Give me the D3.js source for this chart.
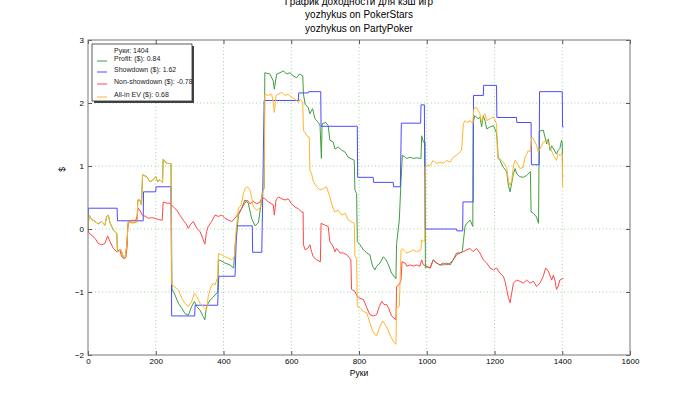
<!DOCTYPE html>
<html>
<head>
<meta charset="utf-8">
<script src="https://cdn.jsdelivr.net/npm/d3@7"></script>
<style>
  body { margin: 0; background: #fff; }
  svg { font-family: "Liberation Sans", Arial, sans-serif; }
</style>
</head>
<body>
<div id="graphic"></div>
<script>
// Title lines and legend labels
const titleLines = ["График доходности для кэш игр", "yozhykus on PokerStars", "yozhykus on PartyPoker"];
const legendLabels = ["Руки: 1404", "Profit: ($): 0.84", "Showdown ($): 1.62", "Non-showdown ($): -0.78", "All-in EV ($): 0.68"];
const xTicks = [0, 200, 400, 600, 800, 1000, 1200, 1400, 1600];
const yTicks = [-2, -1, 0, 1, 2, 3];

// [hand, $]
const showdown = [
  [0,0],[1,0.33],[86,0.33],[87,0.13],[163,0.13],[164,0.59],[200,0.59],[201,0.67],[245,0.67],[247,-1.38],
  [315,-1.38],[316,-1.21],[383,-1.21],[384,-0.98],[386,-0.75],[434,-0.75],[439,0.05],[485,0.05],[486,-0.37],
  [513,-0.37],[515,0.27],[520,2.04],[621,2.04],[622,2.16],[650,2.16],[651,2.18],[687,2.18],[688,1.63],
  [795,1.63],[796,0.82],[842,0.82],[843,0.74],[901,0.74],[902,0.67],[922,0.67],[925,1.68],[982,1.68],
  [983,1.97],[993,1.97],[995,0.0],[1088,0.0],[1089,-0.03],[1106,-0.03],[1107,0.43],[1137,0.43],[1138,2.12],
  [1167,2.12],[1168,2.28],[1206,2.28],[1207,1.77],[1265,1.77],[1266,1.69],[1308,1.69],[1309,1.02],
  [1332,1.02],[1333,2.18],[1400,2.18],[1401,1.62],[1404,1.62]
];

const nonShowdown = [
  [0,0],[3,-0.07],[11,-0.1],[21,-0.15],[30,-0.23],[40,-0.25],[50,-0.23],[58,-0.11],[65,-0.2],[75,-0.31],
  [85,-0.36],[94,-0.33],[99,-0.44],[107,-0.47],[112,-0.44],[116,-0.25],[117,0.02],[120,0.12],[130,0.14],
  [140,0.13],[145,0.2],[148,0.33],[153,0.3],[160,0.22],[170,0.2],[178,0.17],[188,0.18],[198,0.17],
  [208,0.15],[219,0.14],[222,0.43],
  [232,0.41],[242,0.41],[252,0.35],[262,0.3],[271,0.22],[281,0.14],[290,0.08],[296,0.01],[301,0.06],
  [311,0.12],[321,0.01],[331,-0.04],[340,-0.17],[345,-0.24],[350,-0.04],[355,0.04],[365,0.12],[375,0.22],
  [385,0.2],[395,0.22],[404,0.17],[414,0.14],[424,0.12],[434,0.17],[444,0.25],[454,0.33],[463,0.41],
  [470,0.46],[478,0.4],[488,0.44],[498,0.4],[508,0.43],[513,0.5],[522,0.48],[532,0.43],[542,0.4],
  [547,0.38],[550,0.22],[555,0.46],[562,0.51],[572,0.48],[582,0.46],[591,0.48],[601,0.4],[611,0.35],
  [621,0.32],[631,0.27],[635,0.27],[636,-0.25],[641,-0.33],[650,-0.3],[655,-0.25],[660,-0.36],[665,-0.44],
  [675,-0.49],[686,-0.52],[688,0.09],[700,0.06],[709,0.04],[714,-0.2],[724,-0.28],[729,-0.36],[734,-0.31],
  [744,-0.38],[754,-0.38],[764,-0.41],[776,-0.49],[778,-0.96],[788,-0.99],[795,-1.07],[803,-1.1],
  [813,-1.12],[823,-1.25],[832,-1.36],[842,-1.38],[852,-1.36],[860,-1.23],[867,-1.15],[874,-1.2],
  [882,-1.2],[887,-1.25],[896,-1.38],[909,-1.44],[911,-0.91],[919,-0.88],[924,-0.81],[927,-0.52],
  [936,-0.54],[941,-0.59],[951,-0.57],[960,-0.59],[970,-0.57],[980,-0.59],[985,-0.49],[990,-0.57],
  [1000,-0.59],[1010,-0.62],[1019,-0.49],[1029,-0.54],[1039,-0.57],[1049,-0.54],[1059,-0.57],[1069,-0.54],
  [1078,-0.49],[1088,-0.38],[1098,-0.38],[1108,-0.36],[1118,-0.33],[1128,-0.31],[1137,-0.36],[1147,-0.31],
  [1157,-0.38],[1167,-0.49],[1177,-0.54],[1187,-0.62],[1197,-0.65],[1206,-0.62],[1216,-0.7],[1226,-0.75],
  [1231,-0.83],[1236,-0.96],[1241,-1.09],[1246,-1.17],[1251,-1.01],[1256,-0.86],[1265,-0.81],[1275,-0.83],
  [1285,-0.86],[1295,-0.81],[1305,-0.86],[1315,-0.83],[1324,-0.91],[1334,-0.86],[1344,-0.75],[1351,-0.62],
  [1359,-0.67],[1369,-0.81],[1374,-0.73],[1379,-0.83],[1383,-0.96],[1388,-0.91],[1393,-0.81],[1404,-0.78]
];

const profit = [
  [0,0],[3,0.22],[11,0.15],[21,0.12],[30,0.08],[40,0.12],[50,0.06],[55,0.2],[60,0.22],[65,0.1],[75,-0.02],
  [85,-0.07],[87,-0.36],[97,-0.33],[104,-0.44],[109,-0.47],[114,-0.28],[119,0.12],[129,0.1],[139,0.1],
  [145,0.12],[147,0.46],[153,0.46],[158,0.38],[161,0.86],[173,0.83],[183,0.75],[193,0.78],[200,0.83],
  [206,0.75],[212,0.78],[220,0.74],[222,1.11],[232,1.04],[245,1.04],[248,-0.95],[257,-1.05],[267,-1.18],
  [277,-1.26],[286,-1.34],[296,-1.37],[306,-1.23],[314,-1.15],[321,-1.23],[331,-1.29],[340,-1.39],
  [345,-1.44],[350,-1.23],[360,-1.13],[370,-1.08],[383,-1.0],[385,-0.49],[395,-0.51],[404,-0.54],
  [419,-0.57],[430,-0.62],[434,-0.28],[439,-0.1],[444,0.22],[454,0.33],[463,0.46],[473,0.41],[483,0.17],
  [493,0.05],[503,0.1],[511,0.4],[515,0.6],[520,0.65],[522,2.48],[537,2.46],[547,2.35],[550,2.22],
  [557,2.46],[567,2.48],[577,2.51],[586,2.46],[596,2.48],[606,2.43],[616,2.4],[624,2.46],[634,2.43],
  [636,2.14],[641,1.98],[650,1.93],[655,1.83],[663,1.91],[670,1.75],[680,1.69],[685,1.64],[689,1.12],
  [691,1.67],[702,1.69],[709,1.64],[714,1.41],[724,1.38],[729,1.27],[739,1.3],[749,1.25],[759,1.22],
  [768,1.14],[786,1.09],[788,0.62],[793,0.56],[795,-0.2],[803,-0.25],[813,-0.33],[823,-0.38],[832,-0.41],
  [840,-0.59],[847,-0.65],[852,-0.59],[862,-0.54],[872,-0.44],[880,-0.49],[887,-0.57],[896,-0.7],
  [909,-0.79],[911,-0.23],[919,0.14],[924,0.77],[928,1.17],[936,1.14],[941,1.12],[951,1.14],[960,1.12],
  [970,1.13],[983,1.12],[985,1.48],[990,1.38],[995,1.38],[996,-0.62],[1000,-0.6],[1010,-0.62],
  [1019,-0.49],[1029,-0.54],[1039,-0.57],[1049,-0.57],[1059,-0.54],[1069,-0.57],[1078,-0.49],[1088,-0.41],
  [1098,-0.38],[1105,-0.36],[1108,-0.2],[1113,0.04],[1118,0.09],[1128,0.14],[1136,0.04],[1137,1.69],
  [1142,1.8],[1152,1.75],[1157,1.78],[1162,1.62],[1167,1.8],[1172,1.72],[1177,1.59],[1187,1.62],
  [1197,1.64],[1205,1.54],[1208,1.41],[1211,1.12],[1216,1.09],[1226,0.98],[1236,0.91],[1241,0.69],
  [1246,0.59],[1256,0.88],[1261,0.96],[1265,0.88],[1275,0.83],[1285,0.82],[1295,0.85],[1306,0.91],
  [1308,0.27],[1315,0.25],[1324,0.19],[1330,0.09],[1332,1.55],[1344,1.57],[1349,1.46],[1354,1.35],
  [1359,1.43],[1364,1.25],[1369,1.32],[1383,1.19],[1388,1.25],[1393,1.28],[1398,1.41],[1400,1.36],
  [1401,0.84],[1404,0.84]
];

const allinEV = [
  [0,0],[3,0.22],[11,0.15],[21,0.12],[30,0.08],[40,0.12],[50,0.06],[55,0.2],[60,0.22],[65,0.1],[75,-0.02],
  [85,-0.07],[87,-0.36],[97,-0.33],[104,-0.44],[109,-0.47],[114,-0.28],[119,0.12],[129,0.1],[139,0.1],
  [145,0.12],[147,0.46],[153,0.46],[158,0.38],[161,0.86],[173,0.83],[183,0.75],[193,0.78],[200,0.83],
  [206,0.75],[212,0.78],[220,0.74],[222,1.11],[232,1.04],[245,1.04],[247,-0.88],[257,-0.92],[267,-0.97],
  [277,-1.1],[286,-1.18],[296,-1.23],[306,-1.15],[314,-1.02],[321,-1.07],[331,-1.18],[340,-1.23],
  [350,-1.29],[355,-1.07],[363,-0.92],[370,-0.86],[375,-0.89],[383,-0.76],[385,-0.39],[395,-0.41],
  [404,-0.44],[414,-0.46],[424,-0.49],[432,-0.44],[436,-0.12],[439,0.06],[444,0.33],[452,0.38],[459,0.57],
  [465,0.65],[471,0.67],[478,0.62],[483,0.51],[488,0.35],[498,0.3],[508,0.33],[515,0.57],[520,0.65],
  [522,2.14],[532,2.12],[542,2.14],[547,2.01],[550,1.85],[555,2.12],[562,2.14],[572,2.17],[582,2.12],
  [591,2.14],[601,2.09],[611,2.06],[621,2.01],[626,2.06],[634,2.01],[636,1.56],[641,1.53],[646,1.48],
  [653,1.46],[655,0.93],[660,0.88],[665,0.75],[675,0.67],[685,0.62],[695,0.64],[704,0.67],[714,0.51],
  [722,0.35],[729,0.27],[739,0.3],[749,0.22],[759,0.25],[769,0.14],[786,0.09],[788,-0.44],[793,-0.46],
  [795,-1.23],[803,-1.25],[813,-1.31],[823,-1.33],[832,-1.49],[840,-1.62],[847,-1.67],[852,-1.7],
  [862,-1.54],[870,-1.46],[880,-1.54],[887,-1.62],[893,-1.7],[901,-1.78],[909,-1.83],[911,-1.25],
  [919,-1.23],[924,-0.33],[928,-0.31],[936,-0.36],[941,-0.38],[951,-0.36],[960,-0.33],[970,-0.36],
  [983,-0.33],[985,-0.17],[990,-0.2],[994,-0.2],[995,0.98],[1000,1.01],[1010,1.01],[1019,1.09],[1024,1.06],
  [1029,1.04],[1039,1.06],[1049,1.04],[1059,1.09],[1069,1.06],[1078,1.14],[1088,1.17],[1098,1.22],
  [1103,1.25],[1108,1.67],[1113,1.72],[1118,1.69],[1128,1.72],[1136,1.67],[1139,1.91],[1147,1.93],
  [1152,1.88],[1157,1.83],[1162,1.69],[1167,1.8],[1172,1.83],[1177,1.72],[1187,1.75],[1197,1.78],
  [1206,1.67],[1209,1.14],[1216,1.12],[1226,1.06],[1236,0.98],[1241,0.77],[1246,0.69],[1251,0.77],
  [1256,1.01],[1261,1.09],[1265,1.06],[1275,0.96],[1285,0.98],[1290,1.14],[1295,1.19],[1300,1.25],
  [1305,1.22],[1310,1.46],[1315,1.43],[1324,1.33],[1329,1.22],[1334,1.27],[1344,1.38],[1354,1.41],
  [1364,1.3],[1374,1.17],[1383,1.09],[1388,1.19],[1393,1.17],[1400,1.19],[1401,0.68],[1404,0.68]
];

const seriesList = [
  { values: profit, color: "#3f9f3f" },
  { values: showdown, color: "#4c4cff" },
  { values: nonShowdown, color: "#ff4747" },
  { values: allinEV, color: "#ffb52e" }
];

// Dimensions and margins
const margin = { top: 40, right: 70, bottom: 40, left: 88 };
const width = 700 - margin.left - margin.right;
const height = 395 - margin.top - margin.bottom;

const root = d3.select("#graphic")
  .append("svg")
  .attr("width", 700)
  .attr("height", 395);

// Title
root.selectAll(".title")
  .data(titleLines)
  .join("text")
  .attr("class", "title")
  .attr("x", margin.left + width / 2)
  .attr("y", (d, i) => 5 + i * 13.4)
  .attr("text-anchor", "middle")
  .attr("font-size", 10)
  .attr("fill", "#000")
  .text(d => d);

const svg = root.append("g")
  .attr("transform", `translate(${margin.left},${margin.top})`);

const x = d3.scaleLinear().domain([0, 1600]).range([0, width]);
const y = d3.scaleLinear().domain([-2, 3]).range([height, 0]);

// Grid
svg.append("g")
  .selectAll("line")
  .data(xTicks.slice(1, -1))
  .join("line")
  .attr("x1", d => x(d)).attr("x2", d => x(d))
  .attr("y1", 0).attr("y2", height)
  .attr("stroke", "#9fd49f")
  .attr("stroke-dasharray", "1,2.5");

svg.append("g")
  .selectAll("line")
  .data(yTicks.slice(1, -1))
  .join("line")
  .attr("x1", 0).attr("x2", width)
  .attr("y1", d => y(d)).attr("y2", d => y(d))
  .attr("stroke", "#9fd49f")
  .attr("stroke-dasharray", "1,2.5");

// Lines
svg.append("clipPath").attr("id", "clip")
  .append("rect").attr("width", width).attr("height", height);

const line = d3.line()
  .x(d => x(d[0]))
  .y(d => y(d[1]));

svg.append("g")
  .attr("clip-path", "url(#clip)")
  .selectAll("path")
  .data(seriesList)
  .join("path")
  .attr("d", d => line(d.values))
  .attr("fill", "none")
  .attr("stroke", d => d.color)
  .attr("stroke-width", 1);

// Axes, ticks inward on all sides
const axisStyle = g => {
  g.select(".domain").remove();
  g.selectAll(".tick line").attr("stroke", "#555");
  g.selectAll(".tick text")
    .attr("font-family", "Liberation Sans, Arial, sans-serif")
    .attr("font-size", 8)
    .attr("fill", "#000");
};

svg.append("g")
  .attr("transform", `translate(0,${height})`)
  .call(d3.axisBottom(x).tickValues(xTicks).tickSize(-4).tickPadding(3).tickFormat(d3.format("d")))
  .call(axisStyle);

svg.append("g")
  .call(d3.axisTop(x).tickValues(xTicks).tickSize(-4).tickFormat(""))
  .call(axisStyle);

svg.append("g")
  .call(d3.axisLeft(y).tickValues(yTicks).tickSize(-4).tickPadding(4).tickFormat(d3.format("d")))
  .call(axisStyle);

svg.append("g")
  .attr("transform", `translate(${width},0)`)
  .call(d3.axisRight(y).tickValues(yTicks).tickSize(-4).tickFormat(""))
  .call(axisStyle);

// Frame
svg.append("rect")
  .attr("width", width)
  .attr("height", height)
  .attr("fill", "none")
  .attr("stroke", "#777")
  .attr("stroke-width", 1);

// Axis labels
svg.append("text")
  .attr("x", width / 2)
  .attr("y", height + 21)
  .attr("text-anchor", "middle")
  .attr("font-size", 8.5)
  .text("Руки");

svg.append("text")
  .attr("transform", `translate(${-23},${height / 2 - 28}) rotate(-90)`)
  .attr("text-anchor", "middle")
  .attr("font-size", 8.5)
  .text("$");

// Legend with shadow
const legend = svg.append("g").attr("transform", "translate(4,4)");
legend.append("rect")
  .attr("x", 2).attr("y", 2)
  .attr("width", 100).attr("height", 57)
  .attr("fill", "#444");
legend.append("rect")
  .attr("width", 100).attr("height", 57)
  .attr("fill", "#fff")
  .attr("stroke", "#333")
  .attr("stroke-width", 0.8);

const legendColors = [null, "#3f9f3f", "#4c4cff", "#ff4747", "#ffb52e"];
const legendY = [6, 14, 25, 37, 50];

legend.selectAll(".leg-line")
  .data(legendColors.map((c, i) => ({ c, i })).filter(d => d.c))
  .join("line")
  .attr("class", "leg-line")
  .attr("x1", 5).attr("x2", 15)
  .attr("y1", d => legendY[d.i] + 3)
  .attr("y2", d => legendY[d.i] + 3)
  .attr("stroke", d => d.c);

legend.selectAll(".leg-text")
  .data(legendLabels)
  .join("text")
  .attr("class", "leg-text")
  .attr("x", 22)
  .attr("y", (d, i) => legendY[i] + 2.5)
  .attr("font-size", 7)
  .attr("fill", "#222")
  .text(d => d);
</script>
</body>
</html>
